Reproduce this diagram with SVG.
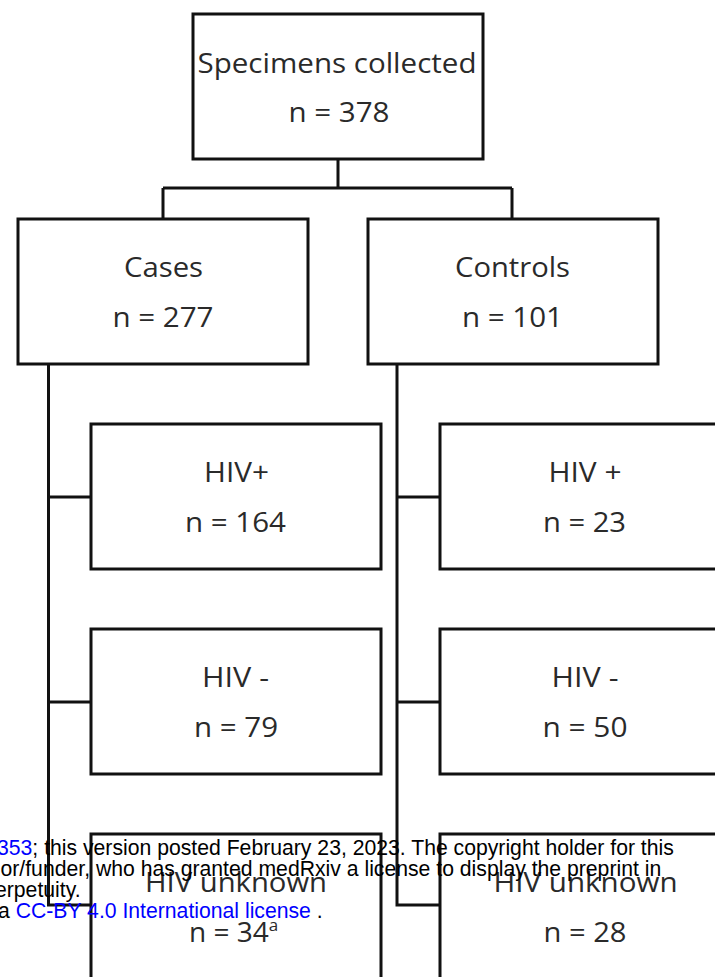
<svg xmlns="http://www.w3.org/2000/svg" width="715" height="977" viewBox="0 0 715 977">
<style>
.box{fill:#fff;stroke:#111;stroke-width:3}
.lbl{font-family:"Open Sans","Liberation Sans",sans-serif;font-size:28px;fill:#2a2a2a;text-anchor:middle}
.conn{fill:none;stroke:#111;stroke-width:3}
.wm{font-family:"Liberation Sans",Arial,sans-serif;font-size:21.2px;fill:#000}
.lnk{fill:#0000ff}
</style>
<rect width="715" height="977" fill="#fff"/>
<g id="connectors">
<path class="conn" d="M338,159 V188 M163,188 H512 M163,188 V219 M512,188 V219"/>
<path class="conn" d="M48.5,364 V905 H91 M48.5,497 H91 M48.5,702 H91"/>
<path class="conn" d="M397,364 V905 H440 M397,497 H440 M397,702 H440"/>
</g>
<g id="specimens">
<rect class="box" x="193" y="14" width="290" height="145"/>
<text class="lbl" x="337" y="73" textLength="279" lengthAdjust="spacingAndGlyphs">Specimens collected</text>
<text class="lbl" x="339" y="122" textLength="101" lengthAdjust="spacingAndGlyphs">n = 378</text>
</g>
<g id="cases">
<rect class="box" x="18" y="219" width="290" height="145"/>
<text class="lbl" x="163.5" y="277" textLength="79" lengthAdjust="spacingAndGlyphs">Cases</text>
<text class="lbl" x="163" y="327" textLength="101" lengthAdjust="spacingAndGlyphs">n = 277</text>
</g>
<g id="controls">
<rect class="box" x="368" y="219" width="290" height="145"/>
<text class="lbl" x="512.5" y="277" textLength="115" lengthAdjust="spacingAndGlyphs">Controls</text>
<text class="lbl" x="512.5" y="327" textLength="101" lengthAdjust="spacingAndGlyphs">n = 101</text>
</g>
<g id="cases-hiv-pos">
<rect class="box" x="91" y="424" width="290" height="145"/>
<text class="lbl" x="236.5" y="482" textLength="65" lengthAdjust="spacingAndGlyphs">HIV+</text>
<text class="lbl" x="235.5" y="532" textLength="101" lengthAdjust="spacingAndGlyphs">n = 164</text>
</g>
<g id="controls-hiv-pos">
<rect class="box" x="440" y="424" width="290" height="145"/>
<text class="lbl" x="585" y="482" textLength="73" lengthAdjust="spacingAndGlyphs">HIV +</text>
<text class="lbl" x="584.5" y="532" textLength="83" lengthAdjust="spacingAndGlyphs">n = 23</text>
</g>
<g id="cases-hiv-neg">
<rect class="box" x="91" y="629" width="290" height="145"/>
<text class="lbl" x="235.5" y="687" textLength="67" lengthAdjust="spacingAndGlyphs">HIV -</text>
<text class="lbl" x="236" y="737" textLength="84" lengthAdjust="spacingAndGlyphs">n = 79</text>
</g>
<g id="controls-hiv-neg">
<rect class="box" x="440" y="629" width="290" height="145"/>
<text class="lbl" x="585" y="687" textLength="67" lengthAdjust="spacingAndGlyphs">HIV -</text>
<text class="lbl" x="585" y="737" textLength="85" lengthAdjust="spacingAndGlyphs">n = 50</text>
</g>
<g id="cases-hiv-unknown">
<rect class="box" x="91" y="834" width="290" height="145"/>
<text class="lbl" x="236" y="892" textLength="182" lengthAdjust="spacingAndGlyphs">HIV unknown</text>
<text class="lbl" x="189" y="942" style="text-anchor:start">n = 34<tspan font-size="17" dy="-11">a</tspan></text>
</g>
<g id="controls-hiv-unknown">
<rect class="box" x="440" y="834" width="290" height="145"/>
<text class="lbl" x="585.5" y="892" textLength="184" lengthAdjust="spacingAndGlyphs">HIV unknown</text>
<text class="lbl" x="585" y="942" textLength="83" lengthAdjust="spacingAndGlyphs">n = 28</text>
</g>
<g id="watermark">
<text class="wm" x="-3" y="855"><tspan class="lnk">353</tspan>; this version posted February 23, 2023. The copyright holder for this</text>
<text class="wm" x="0.5" y="876">or/funder, who has granted medRxiv a license to display the preprint in</text>
<text class="wm" x="-5" y="897">erpetuity.</text>
<text class="wm" x="-2" y="918">a <tspan class="lnk">CC-BY 4.0 International license</tspan> .</text>
</g>
</svg>
